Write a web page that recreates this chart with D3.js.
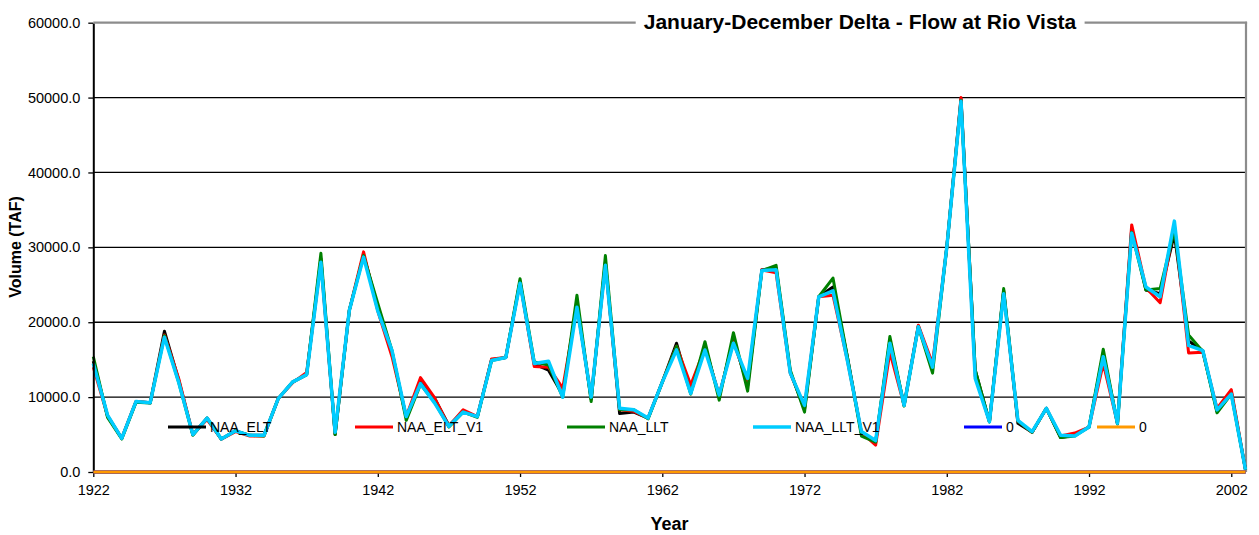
<!DOCTYPE html>
<html><head><meta charset="utf-8">
<script src="https://cdn.jsdelivr.net/npm/d3@7"></script>
<style>
body{margin:0;background:#fff;}
svg{display:block;font-family:"Liberation Sans",Arial,Helvetica,sans-serif;}
</style>
</head><body>
<svg id="c" width="1259" height="535"></svg>
<script>
const years = [1922,1923,1924,1925,1926,1927,1928,1929,1930,1931,1932,1933,1934,1935,1936,1937,1938,1939,1940,1941,
1942,1943,1944,1945,1946,1947,1948,1949,1950,1951,1952,1953,1954,1955,1956,1957,1958,1959,1960,1961,
1962,1963,1964,1965,1966,1967,1968,1969,1970,1971,1972,1973,1974,1975,1976,1977,1978,1979,1980,1981,
1982,1983,1984,1985,1986,1987,1988,1989,1990,1991,1992,1993,1994,1995,1996,1997,1998,1999,2000,2001,
2002,2003];

const naaElt = [14800,7500,4500,9400,9250,18800,12300,5000,7200,4400,5500,4900,4900,9800,12000,13000,28500,5000,21600,29000,
22000,16000,7300,12000,9800,6200,8100,7400,15000,15300,25400,14400,13600,10300,22500,9700,28000,7800,8000,7200,
12000,17200,10600,16800,10100,17800,11500,27000,27200,13300,8400,23400,24700,15500,5200,4000,17500,8900,19500,14000,
30000,49800,13600,6700,24200,6500,5300,8500,4600,4900,6000,15800,6500,32500,24300,23800,31800,17500,16200,8100,
10700,300];

const naaEltV1 = [14000,7500,4500,9400,9250,18300,12500,5000,7000,4400,5400,4800,4800,9800,11900,13300,28000,5200,21600,29400,
21500,15400,7400,12600,9900,6100,8300,7400,15100,15300,25400,14100,14000,11200,22200,10000,27800,8300,8100,7200,
12000,16800,11600,16600,10300,17400,12000,27000,26600,13200,8700,23400,23600,15000,5300,3600,16000,8900,19600,14500,
30000,50000,12800,6700,24000,6800,5300,8500,4800,5200,6000,14500,6500,33000,24600,22600,33000,15900,16000,8500,
11000,300];

const naaLlt = [15400,7300,4400,9300,9200,18200,12000,4900,7200,4400,5500,4900,4800,9800,12000,13000,29200,5000,21600,28900,
22500,16200,6900,11700,9300,6000,8000,7300,14900,15300,25800,14700,14300,10000,23600,9400,28900,8300,8300,7100,
12000,16800,10400,17400,9600,18600,10800,26900,27600,13600,8000,23400,25900,15500,4800,4000,18100,8800,19400,13200,
30000,49600,13600,6700,24500,6800,5300,8500,4600,4800,6000,16400,6400,32000,24300,24500,32300,18300,16100,7900,
10400,300];

const naaLltV1 = [14500,7600,4500,9400,9250,18000,12000,5000,7200,4400,5500,4900,4900,9800,12000,13000,28000,5300,21600,28700,
21500,16200,7400,11800,9200,6100,8000,7400,14900,15300,25200,14500,14800,10000,22000,10000,27600,8500,8300,7200,
12000,16300,10500,16300,10300,17200,12500,26900,27000,13200,8900,23400,24200,15000,5400,4200,17200,8900,19400,14000,
30000,49500,12500,6700,23800,6900,5400,8500,4900,4800,6000,15400,6500,31900,24700,23400,33500,16900,16200,8300,
10400,300];

const zeroA = [0,0,0,0,0,0,0,0,0,0,0,0,0,0,0,0,0,0,0,0,0,0,0,0,0,0,0,0,0,0,0,0,0,0,0,0,0,0,0,0,0,
0,0,0,0,0,0,0,0,0,0,0,0,0,0,0,0,0,0,0,0,0,0,0,0,0,0,0,0,0,0,0,0,0,0,0,0,0,0,0,0,0];
const zeroB = [0,0,0,0,0,0,0,0,0,0,0,0,0,0,0,0,0,0,0,0,0,0,0,0,0,0,0,0,0,0,0,0,0,0,0,0,0,0,0,0,0,
0,0,0,0,0,0,0,0,0,0,0,0,0,0,0,0,0,0,0,0,0,0,0,0,0,0,0,0,0,0,0,0,0,0,0,0,0,0,0,0,0];

const seriesNames = ["NAA_ELT","NAA_ELT_V1","NAA_LLT","NAA_LLT_V1","0","0"];
const xTickLabels = [1922,1932,1942,1952,1962,1972,1982,1992,2002];
const yTickValues = [0,10000,20000,30000,40000,50000,60000];
const chartTitle = "January-December Delta - Flow at Rio Vista";
const xTitle = "Year";
const yTitle = "Volume (TAF)";

// styling (not data)
const seriesStyle = [
  {color:"#000000", width:3},
  {color:"#FF0000", width:3},
  {color:"#008000", width:3},
  {color:"#00CCFF", width:3.5},
  {color:"#0000FF", width:3},
  {color:"#FF9900", width:3}
];
const legendX = [168, 355, 567, 753, 964, 1097];
const legendY = 427;

const seriesData = [naaElt, naaEltV1, naaLlt, naaLltV1, zeroA, zeroB];

const svg = d3.select("#c");
const L = 93.3, R = 1245.5, T = 22.7, B = 472;
const x = d3.scaleLinear().domain([years[0], years[years.length-1]]).range([L, R]);
const y = d3.scaleLinear().domain([0, 60000]).range([B, T]);

// gridlines
svg.append("g").selectAll("line").data(yTickValues.filter(v => v > 0 && v < 60000)).join("line")
  .attr("x1", L).attr("x2", R).attr("y1", d => y(d)).attr("y2", d => y(d))
  .attr("stroke", "#000").attr("stroke-width", 1.3);

// borders (gray) right & bottom
svg.append("line").attr("x1", R+0.5).attr("x2", R+0.5).attr("y1", T-1).attr("y2", B)
  .attr("stroke", "#8c8c8c").attr("stroke-width", 2.2);
svg.append("line").attr("x1", L).attr("x2", R).attr("y1", B+1).attr("y2", B+1)
  .attr("stroke", "#8c8c8c").attr("stroke-width", 2);

// series
const line = d3.line().x((d, i) => x(years[i])).y(d => y(d));
seriesData.forEach((s, k) => {
  svg.append("path").datum(s).attr("d", line)
    .attr("fill", "none").attr("stroke", seriesStyle[k].color)
    .attr("stroke-width", seriesStyle[k].width).attr("stroke-linejoin", "round");
});

// y axis
const yAxis = svg.append("g").attr("transform", `translate(${L},0)`)
  .call(d3.axisLeft(y).tickValues(yTickValues).tickFormat(d => d.toFixed(1)).tickSize(5).tickPadding(8).tickSizeOuter(0));
yAxis.select(".domain").attr("stroke", "#000").attr("stroke-width", 2);
yAxis.selectAll(".tick line").attr("stroke", "#000").attr("stroke-width", 1.3);
yAxis.selectAll("text").attr("font-size", "14.5px").attr("fill", "#000")
  .attr("font-family", '"Liberation Sans",Arial,sans-serif');

// x axis
const xAxis = svg.append("g").attr("transform", `translate(0,${B})`)
  .call(d3.axisBottom(x).tickValues(xTickLabels).tickFormat(d3.format("d")).tickSize(5).tickPadding(8).tickSizeOuter(0));
xAxis.select(".domain").remove();
xAxis.selectAll(".tick line").attr("stroke", "#000").attr("stroke-width", 1.3);
xAxis.selectAll("text").attr("font-size", "14.5px").attr("fill", "#000")
  .attr("font-family", '"Liberation Sans",Arial,sans-serif');

// redraw zero lines on top of axis
[4,5].forEach(k => {
  svg.append("path").datum(seriesData[k]).attr("d", line)
    .attr("fill", "none").attr("stroke", seriesStyle[k].color).attr("stroke-width", seriesStyle[k].width);
});

// legend
const lg = svg.append("g");
seriesNames.forEach((n, k) => {
  lg.append("line").attr("x1", legendX[k]).attr("x2", legendX[k] + 38)
    .attr("y1", legendY).attr("y2", legendY)
    .attr("stroke", seriesStyle[k].color).attr("stroke-width", seriesStyle[k].width);
  lg.append("text").attr("x", legendX[k] + 42).attr("y", legendY + 5)
    .attr("font-size", "14px").attr("fill", "#000").text(n);
});

// title with border break
const tt = svg.append("text").attr("x", 860).attr("y", 29).attr("text-anchor", "middle")
  .attr("font-size", "21px").attr("font-weight", "bold").attr("fill", "#000").text(chartTitle);
const bb = tt.node().getBBox();
svg.append("line").attr("x1", L).attr("x2", bb.x - 8).attr("y1", T).attr("y2", T)
  .attr("stroke", "#8c8c8c").attr("stroke-width", 2.2);
svg.append("line").attr("x1", bb.x + bb.width + 8).attr("x2", R + 1.6).attr("y1", T).attr("y2", T)
  .attr("stroke", "#8c8c8c").attr("stroke-width", 2.2);

// axis titles
svg.append("text").attr("x", (L + R) / 2).attr("y", 530).attr("text-anchor", "middle")
  .attr("font-size", "18px").attr("font-weight", "bold").attr("fill", "#000").text(xTitle);
svg.append("text").attr("transform", "translate(21,247) rotate(-90)").attr("text-anchor", "middle")
  .attr("font-size", "16px").attr("font-weight", "bold").attr("fill", "#000").text(yTitle);
</script>
</body></html>
